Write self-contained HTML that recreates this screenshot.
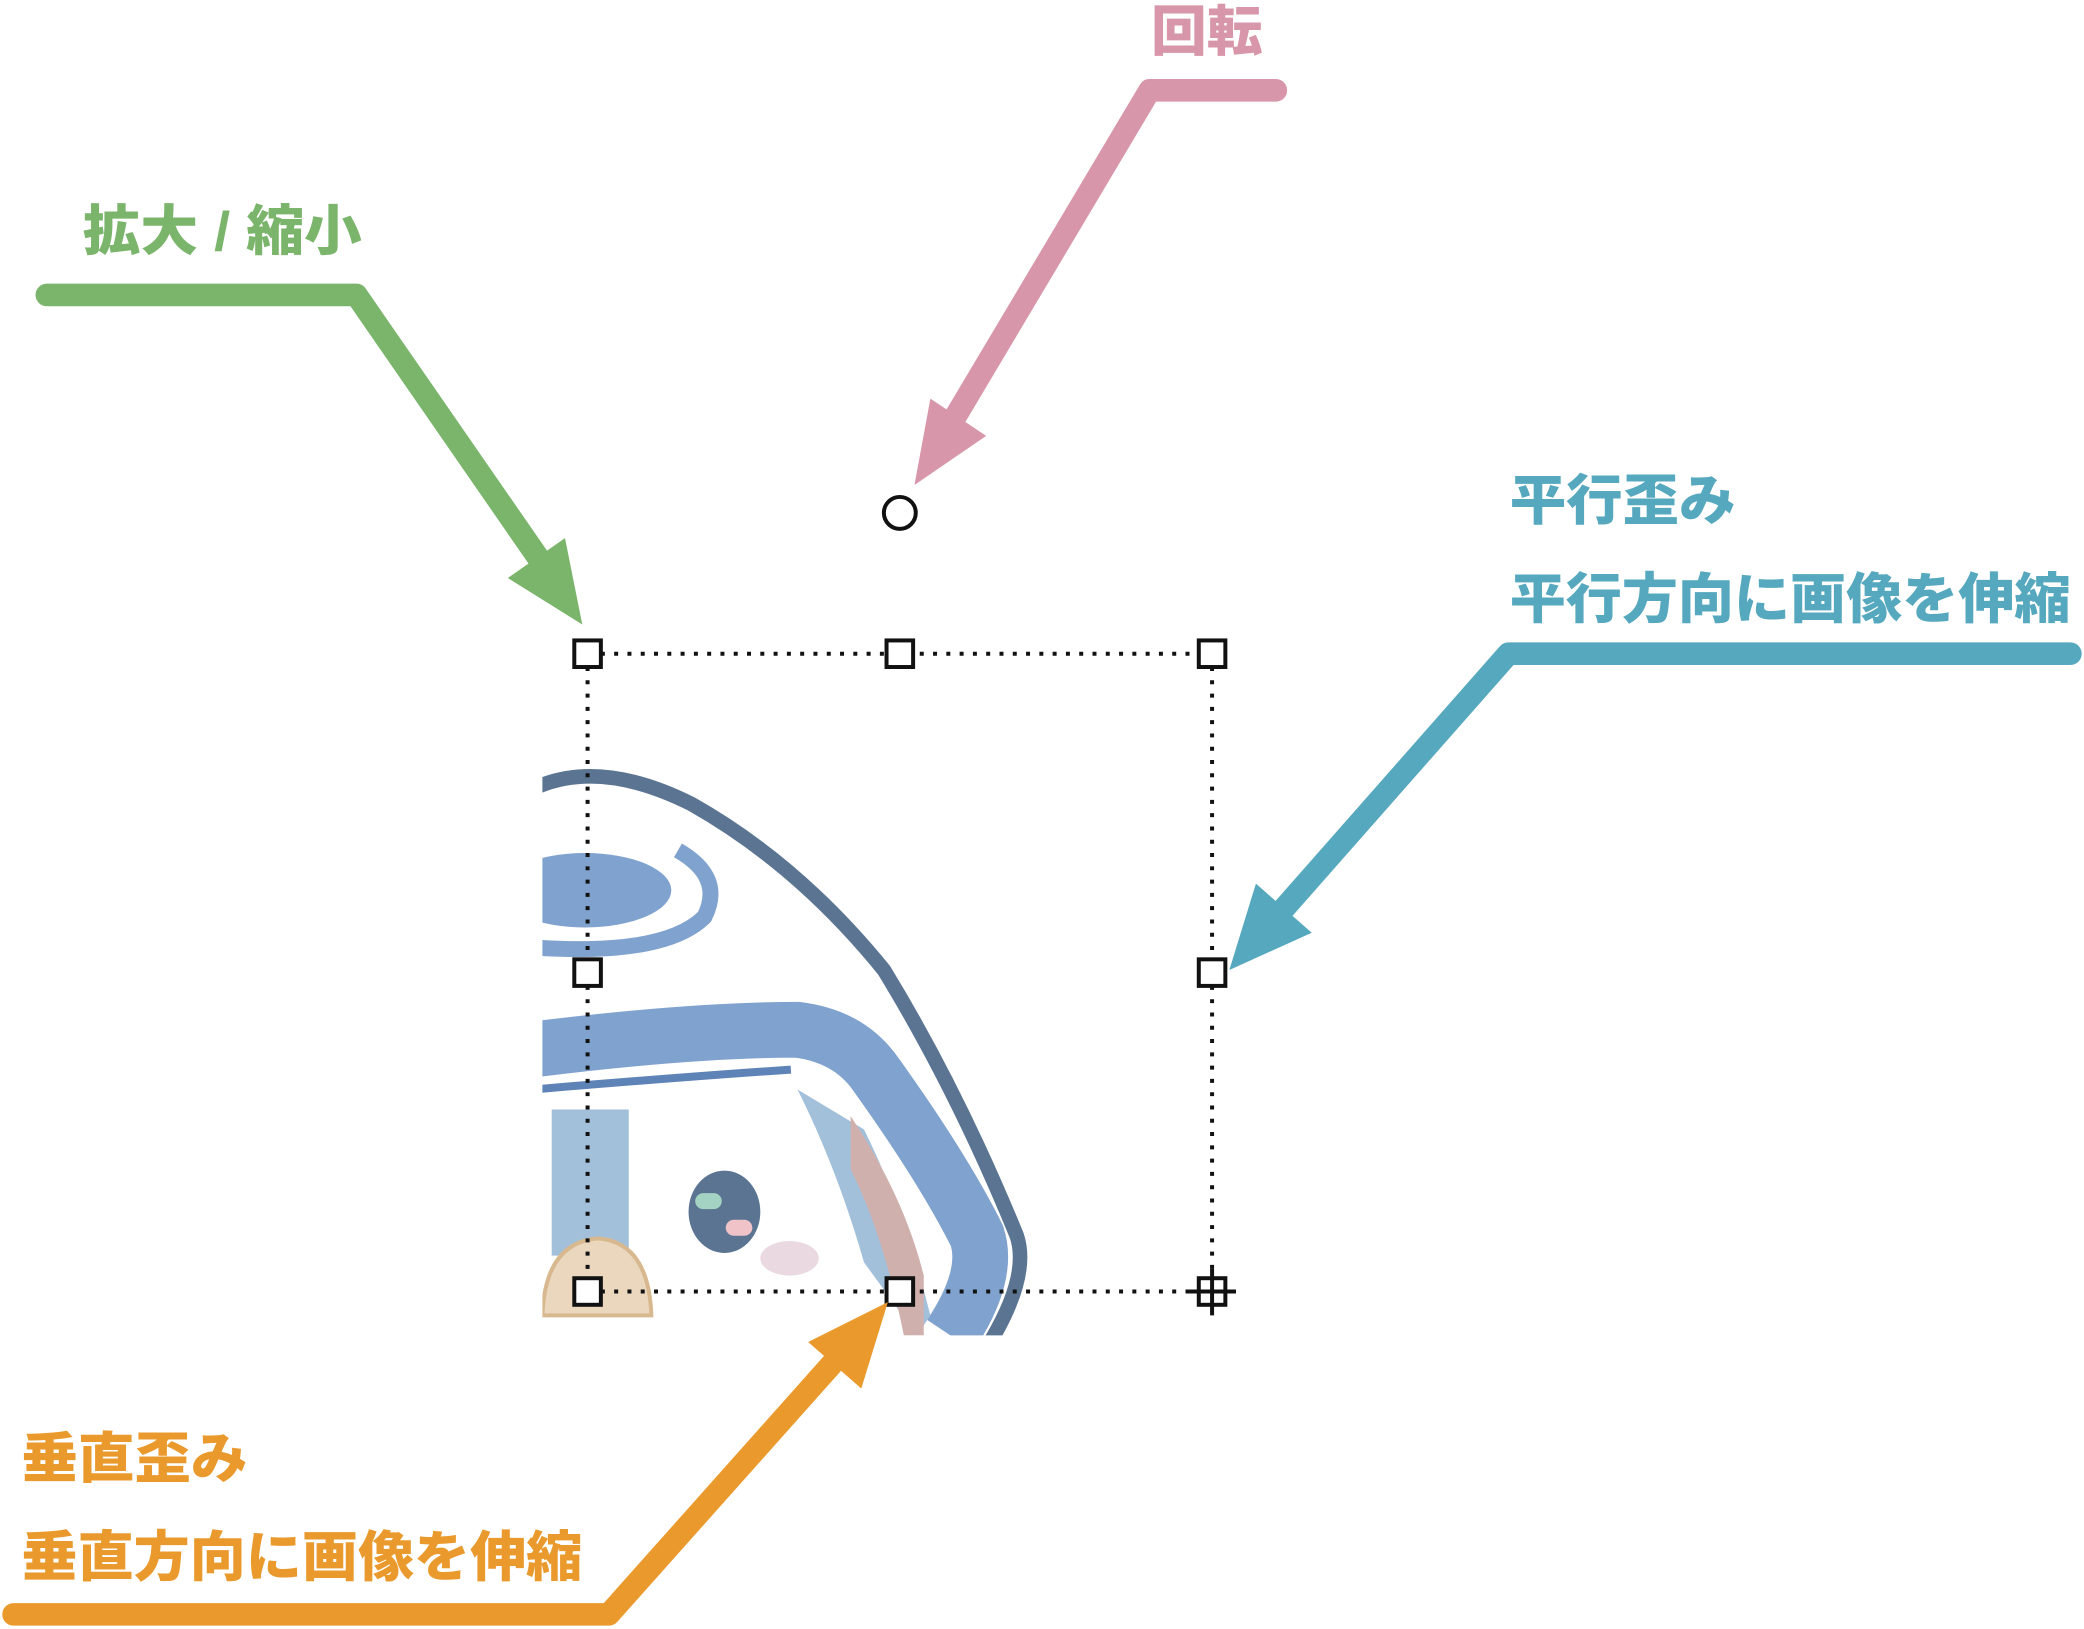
<!DOCTYPE html>
<html><head><meta charset="utf-8"><style>
html,body{margin:0;padding:0;background:#fff;}
svg{display:block;}
text{font-family:"Liberation Sans","Noto Sans CJK JP",sans-serif;font-weight:900;font-size:41px;}
</style></head><body>
<svg width="2084" height="1629" viewBox="0 0 1568 1226" xmlns="http://www.w3.org/2000/svg">
<defs><clipPath id="c"><rect x="408" y="560" width="400" height="445"/></clipPath></defs>
<g clip-path="url(#c)">
 <path d="M380,990 L380,600 Q430,570 490,590 Q580,630 660,730 Q720,830 770,935 Q780,960 760,1005 Z" fill="#fff"/>
 <path d="M400,594 Q450,570 520,605 Q600,650 665,730 Q720,820 765,930 Q775,960 745,1010" fill="none" stroke="#5a7492" stroke-width="11"/>
 <ellipse cx="440" cy="670" rx="65" ry="28" fill="#80a2ce"/>
 <path d="M400,713 Q500,720 530,690 Q545,660 510,640" fill="none" stroke="#80a2ce" stroke-width="12"/>
 <path d="M400,790 Q520,775 600,775 Q640,780 660,810 Q710,880 735,930 Q745,960 715,1005" fill="none" stroke="#80a2ce" stroke-width="42"/>
 <path d="M400,820 Q520,810 595,805" fill="none" stroke="#5e83b6" stroke-width="6"/>
 <rect x="415" y="835" width="58" height="110" fill="#a3c0db"/>
 <path d="M600,820 Q630,880 650,950 L690,1005 L700,990 Q680,910 650,850 Z" fill="#a3c0db"/>
 <path d="M640,840 Q680,900 695,960 L695,1005 L680,1005 Q665,930 640,880 Z" fill="#cfb0ad"/>
 <ellipse cx="545" cy="912" rx="27" ry="31" fill="#5a7492"/>
 <rect x="523" y="898" width="20" height="12" rx="6" fill="#a4d3c4"/>
 <rect x="546" y="918" width="20" height="12" rx="6" fill="#efc3c8"/>
 <ellipse cx="594" cy="947" rx="22" ry="13" fill="#ead9e0"/>
 <path d="M408,990 Q410,935 450,932 Q488,935 490,990 Z" fill="#ead7bd" stroke="#d8b88e" stroke-width="3"/>
</g>
<g stroke="#111" stroke-width="3" stroke-dasharray="3,7" fill="none">
 <line x1="442" y1="492" x2="912" y2="492"/>
 <line x1="442" y1="972" x2="912" y2="972"/>
 <line x1="442" y1="492" x2="442" y2="972"/>
 <line x1="912" y1="492" x2="912" y2="972"/>
</g>
<g fill="#fff" stroke="#111" stroke-width="3">
 <rect x="432" y="482" width="20" height="20"/><rect x="667" y="482" width="20" height="20"/><rect x="902" y="482" width="20" height="20"/>
 <rect x="432" y="722" width="20" height="20"/><rect x="902" y="722" width="20" height="20"/>
 <rect x="432" y="962" width="20" height="20"/><rect x="667" y="962" width="20" height="20"/><rect x="902" y="962" width="20" height="20"/>
 <circle cx="677" cy="386" r="12"/>
</g>
<path d="M912,955 V990 M895,972 H930" stroke="#111" stroke-width="3"/>
<g fill="none" stroke-width="17" stroke-linecap="round" stroke-linejoin="round">
 <polyline points="960,68 865,68 715,320" stroke="#d896aa"/>
 <polyline points="35,222 268,222 405,420" stroke="#7ab56b"/>
 <polyline points="1558,492 1135,492 965,685" stroke="#55a8be"/>
 <polyline points="10,1215 458,1215 630,1022" stroke="#ea9a2d"/>
</g>
<polygon points="688,365 700,300 742,328" fill="#d896aa"/>
<polygon points="438,470 382,435 425,405" fill="#7ab56b"/>
<polygon points="925,730 945,665 987,702" fill="#55a8be"/>
<polygon points="668,980 608,1010 648,1045" fill="#ea9a2d"/>
<text x="866" y="38" fill="#d896aa" textLength="84" lengthAdjust="spacingAndGlyphs">回転</text>
<text x="62" y="188" fill="#7ab56b" textLength="210" lengthAdjust="spacingAndGlyphs">拡大 / 縮小</text>
<text x="1136" y="391" fill="#55a8be" textLength="170" lengthAdjust="spacingAndGlyphs">平行歪み</text>
<text x="1136" y="465" fill="#55a8be" textLength="422" lengthAdjust="spacingAndGlyphs">平行方向に画像を伸縮</text>
<text x="16" y="1112" fill="#ea9a2d" textLength="170" lengthAdjust="spacingAndGlyphs">垂直歪み</text>
<text x="16" y="1186" fill="#ea9a2d" textLength="422" lengthAdjust="spacingAndGlyphs">垂直方向に画像を伸縮</text>
</svg>
</body></html>
